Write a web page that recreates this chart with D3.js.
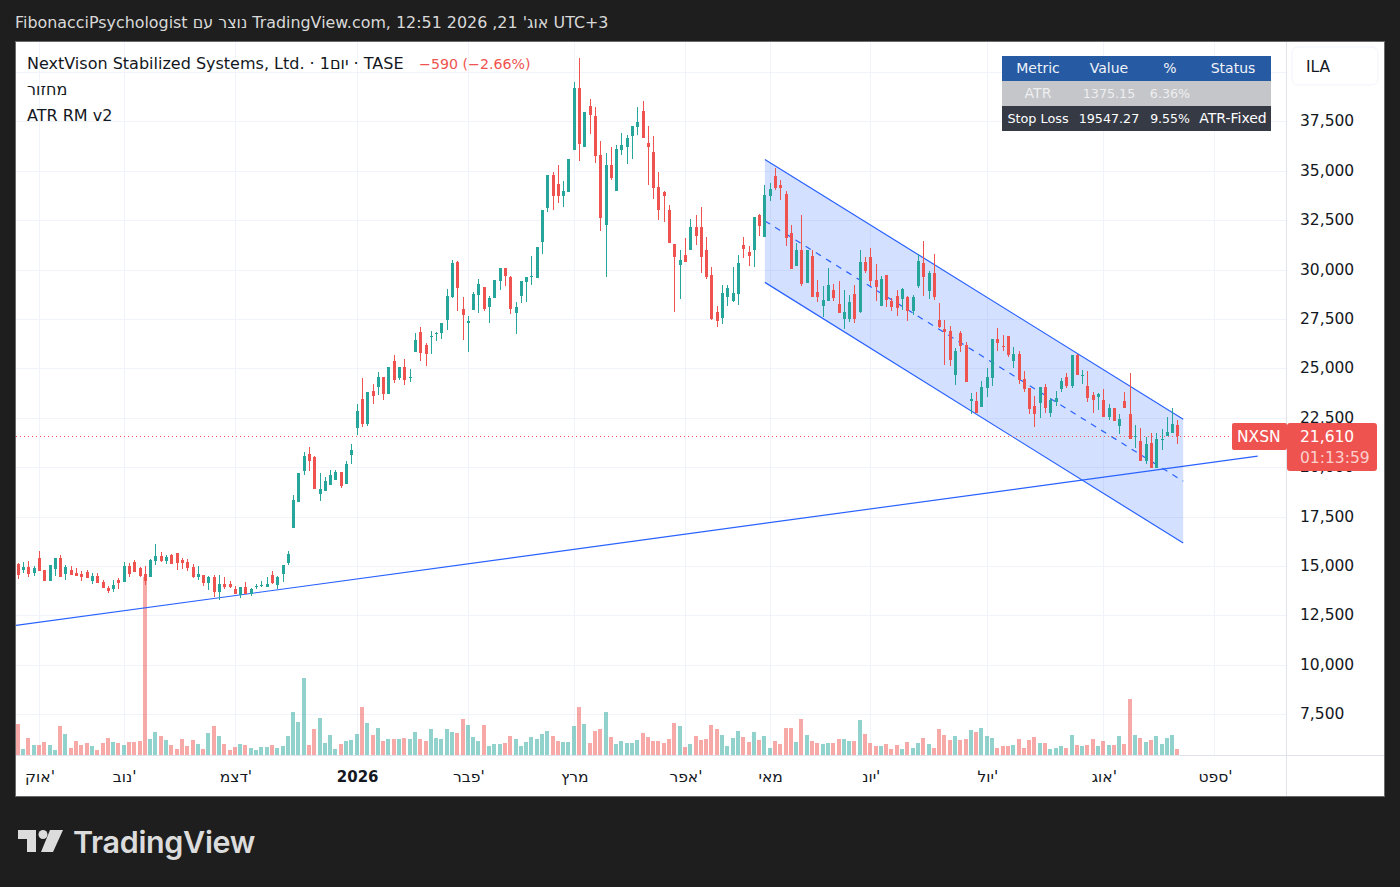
<!DOCTYPE html>
<html>
<head>
<meta charset="utf-8">
<script src="https://cdn.jsdelivr.net/npm/d3@7"></script>
<style>
  html, body { margin: 0; padding: 0; background: #1e1e1e; }
  svg { display: block; }
  text { font-family: "DejaVu Sans", sans-serif; }
</style>
</head>
<body>
<svg width="1400" height="887"></svg>
<script>
// one value per daily bar, oldest first
const opens = [15120,14820,14970,14670,15430,14820,14260,14870,15430,14620,14820,14670,14620,14720,14260,14520,14210,13910,13860,14310,
  14210,15020,15230,14920,14620,14470,15280,15530,15280,15580,15680,15330,15230,14970,14470,14570,14160,14470,13710,14110,
  14110,13860,13550,13960,13610,13960,14010,13960,14570,14060,14620,15170,16940,18260,19830,20690,20540,18660,18820,19120,
  19370,19780,19170,20640,22000,23470,22210,23880,24080,24580,23720,25390,24530,25090,24530,25850,26860,26200,26610,26760,
  26810,27470,28630,30400,28030,27320,27970,28730,29140,28130,28580,29440,30100,29640,27820,28680,29390,29640,29590,31420,
  33140,34810,34350,33740,33950,36070,39210,36220,38300,37790,35820,32280,35310,34000,36070,36220,36780,37240,38050,36430,
  35970,34200,33950,33030,31310,30250,30760,31010,32170,32170,31010,29750,27870,27570,28630,28430,28780,31260,30910,31010,
  32780,31670,33740,34750,34300,33840,31870,30200,31010,29340,30710,28880,28180,28430,28990,28280,27520,27520,28780,27870,
  30400,30660,29490,28180,29750,28430,28680,28530,28630,27920,29190,30350,28940,29850,27470,27010,26910,24690,26810,26200,
  23370,23370,23070,24030,24540,26510,26150,26660,25400,25750,24480,24030,23120,23270,24080,22760,23320,23980,24590,24130,
  25700,24640,24130,23670,23570,23420,22560,23020,22100,23370,22710,21550,21350,20330,21250,19980,21400,21600,21750,22160];
const highs = [15160,15230,15280,15020,15780,14820,15070,15430,15580,15070,15020,14920,14770,14820,14670,14670,14310,14010,14310,14420,
  15230,15170,15330,14970,15020,15380,16140,15730,15580,15630,15680,15430,15380,15120,15020,14570,14520,14570,14570,14470,
  14260,14010,13960,14210,13910,14110,14260,14470,14770,14520,15070,15780,18610,19730,20790,21040,20590,19730,19520,19880,
  19880,19780,20330,21190,23220,24530,23830,24230,24840,24580,25090,25700,25090,25500,24990,26810,27120,26300,26910,26860,
  27320,29040,30510,30460,28630,27670,28890,29540,29140,28680,29490,30100,30100,29700,28380,29440,29640,30710,31160,33030,
  34810,34960,35310,34500,35610,39510,40730,37990,38650,38250,36530,35920,36220,36320,36930,36830,37290,38250,38550,37290,
  36780,34960,34000,33290,31310,31010,31620,32580,32780,33190,31670,30150,28180,29240,29240,30150,30760,31670,31210,32680,
  32830,34300,34400,35160,34550,34000,32280,31360,32780,31010,31010,29490,29190,30100,29290,29440,28990,28730,29240,31010,
  30660,31110,30300,29700,29750,28580,28990,29090,28680,28730,30810,31470,29950,30810,28330,27470,27170,26050,26910,26360,
  23770,23830,24380,25040,26510,27070,26710,26660,26100,25900,24890,24030,23620,24080,24230,23520,23880,24540,24790,25700,
  25750,24940,24890,23830,23780,23980,23220,23020,22710,23830,24790,22160,22000,21550,21750,21750,21950,22560,23020,22410];
const lows = [14370,14650,14470,14530,14790,14260,14260,14520,14470,14310,14570,14520,14260,14420,14110,14160,13910,13660,13710,13860,
  14210,14470,14720,14470,14060,14470,15070,15230,15120,15120,14820,14870,14770,14420,14310,14010,13810,13450,13300,13860,
  13910,13610,13400,13610,13500,13860,13960,13960,14110,13860,14210,15070,16940,18260,19630,19830,18920,18310,18820,19120,
  19370,18970,19170,20180,21650,22050,22100,23220,23670,23420,23720,24280,24430,24180,24330,25850,25390,25140,25750,26410,
  26510,26960,28580,27920,26460,25850,27970,27820,27920,27320,28580,28990,29190,27770,26760,28330,28380,29240,29590,30810,
  32930,33030,33390,33190,33950,36070,35510,36220,36880,35410,31970,29640,34550,34000,35820,35360,35610,36830,36680,34300,
  33590,32530,32430,31360,27870,28530,30400,31010,31260,29850,29540,27470,27110,27260,28180,28380,28230,30600,30200,30150,
  31720,31670,33490,34050,33540,31210,30050,30200,29190,29340,28630,28380,27620,28430,28430,27820,27010,27370,27320,27820,
  29850,29190,28430,28180,28130,27920,27670,27970,27420,27720,29090,28680,28530,28480,27060,25190,25140,24180,25850,24330,
  22710,22760,23070,23570,24130,25900,25900,25600,25040,24230,23830,22710,22060,22510,22760,22560,23120,23830,24030,24030,
  24690,24230,23320,22760,22920,22560,22410,22360,21700,23020,21450,20990,20330,20180,19980,19980,20890,21600,21750,21190];
const closes = [14570,14990,14600,14920,14790,14260,15070,15430,14470,14970,14570,14520,14470,14420,14520,14160,13910,13760,14060,14160,
  15020,14620,14720,14520,14260,15330,15530,15280,15480,15120,15170,15170,14920,14470,14620,14160,14470,13710,14110,13960,
  13960,13610,13960,13610,13860,14010,14060,14110,14160,14470,15070,15630,18360,19730,20590,20330,18920,18920,19320,19630,
  19780,19070,20180,20890,22860,22210,23830,23620,24580,23720,25090,24430,25090,24430,24580,26460,25800,25750,26660,26810,
  27320,28680,30350,29090,27720,27420,28780,29290,28030,28580,29490,30100,29700,28030,28130,29440,29640,29700,31160,33030,
  34810,33740,33740,34000,35610,39210,36370,37990,37840,35770,32630,35310,34650,36120,36320,36680,37290,37490,36680,36220,
  34150,33030,33740,31360,30660,30500,30400,32170,31720,30660,29640,27520,27420,28830,29090,28830,30350,31060,30710,32680,
  32220,33790,34100,34150,34150,31620,30050,31010,29290,31010,28630,28630,28480,29240,28580,27820,27870,28380,27520,30400,
  29950,29440,29140,29540,28480,28130,28080,29040,27920,28630,30450,29640,29850,28630,27110,26860,25440,25900,26150,24330,
  23470,22760,24080,24590,26510,26310,26100,25700,25750,24430,23980,22970,22710,24080,23020,23420,23520,24380,24130,25700,
  24690,24690,23520,23420,23730,22560,23020,22360,22460,23020,21450,21600,20330,21190,19980,21450,21450,21800,22200,21610];
// volume bars have no scale of their own on the chart, so these are relative readings
const volumes = [31,6,17,10,10,13,10,5,29,21,7,14,10,12,9,5,12,17,13,12,
  10,13,13,14,178,16,23,19,15,10,6,16,9,15,11,6,22,29,19,11,
  5,8,11,10,7,5,8,8,10,7,9,19,43,33,77,10,26,37,12,20,
  6,11,14,15,21,48,32,20,27,14,16,16,16,17,16,23,16,14,26,17,
  16,26,23,22,36,30,18,14,30,9,11,11,12,19,16,9,13,18,16,21,
  24,19,14,13,13,29,48,31,12,24,26,43,18,11,14,12,12,15,22,18,
  14,14,12,16,32,29,8,11,19,15,16,30,26,20,9,17,24,18,13,23,
  15,19,7,14,11,27,27,13,36,20,14,12,11,12,12,16,16,14,14,35,
  21,12,9,9,11,6,10,6,13,7,12,17,11,7,26,20,15,19,15,16,
  25,23,27,19,17,7,9,9,10,16,7,15,18,12,12,6,7,9,7,20,
  10,9,10,16,9,14,10,10,19,11,56,20,17,13,15,19,11,17,20,6];

const monthBars = [4, 20, 41, 64, 85, 105, 126, 142, 161, 183, 205, 226];
const monthLabels = ["אוק'", "נוב'", "דצמ'", "2026", "פבר'", "מרץ", "אפר'", "מאי", "יונ'", "יול'", "אוג'", "ספט'"];
const priceTicks = [7500, 10000, 12500, 15000, 17500, 20000, 22500, 25000, 27500, 30000, 32500, 35000, 37500];
const gridPrices = [...priceTicks, 40000];
const lastClose = 21610;

// drawings: [bar, price]
const supportLine = [[-0.43, 12020], [234.07, 20590]];
const channelTop = [[141, 35600], [220, 22460]];
const channelMid = [[141, 32490], [220, 19320]];
const channelBottom = [[141, 29380], [220, 16190]];

const tableHeader = ["Metric", "Value", "%", "Status"];
const tableAtr = ["ATR", "1375.15", "6.36%", ""];
const tableStop = ["Stop Loss", "19547.27", "9.55%", "ATR-Fixed"];

const up = "#26a69a";
const down = "#ef5350";
const ink = "#131722";
const gridColor = "#f0f3fa";
const drawColor = "#2962ff";

const pane = { left: 16, right: 1286, top: 42, bottom: 755 };

const svg = d3.select("svg");

// scales
const x = d3.scaleLinear().domain([0, 219]).range([18.3, 1177.9]);
const y = d3.scaleLinear().domain([7500, 37500]).range([714.8, 121.9]);
const yVol = d3.scaleLinear().domain([0, 178]).range([755, 577]);

// snap to the pixel grid like the original canvas does
const snap = v => Math.floor(v) + 0.5;
const color = i => (closes[i] >= opens[i] ? up : down);

// frame
svg.append("rect").attr("x", 15.5).attr("y", 41.5).attr("width", 1369).attr("height", 755)
  .attr("fill", "#fff").attr("stroke", "#6a6a6a");

svg.append("defs").append("clipPath").attr("id", "pane").append("rect")
  .attr("x", pane.left).attr("y", pane.top)
  .attr("width", pane.right - pane.left).attr("height", pane.bottom - pane.top);

const plot = svg.append("g").attr("clip-path", "url(#pane)");

// grid
plot.selectAll(".hgrid").data(gridPrices).enter().append("line")
  .attr("x1", pane.left).attr("x2", pane.right)
  .attr("y1", d => snap(y(d))).attr("y2", d => snap(y(d)))
  .attr("stroke", gridColor);
plot.selectAll(".vgrid").data(monthBars).enter().append("line")
  .attr("x1", d => snap(x(d))).attr("x2", d => snap(x(d)))
  .attr("y1", pane.top).attr("y2", pane.bottom)
  .attr("stroke", gridColor);

// volume
plot.selectAll(".vol").data(volumes).enter().append("rect")
  .attr("x", (d, i) => snap(x(i)) - 2.5)
  .attr("width", 4)
  .attr("y", d => Math.round(yVol(d)))
  .attr("height", d => yVol(0) - Math.round(yVol(d)))
  .attr("fill", (d, i) => color(i))
  .attr("opacity", 0.5)
  .attr("shape-rendering", "crispEdges");

// channel
const lineGen = d3.line().x(d => x(d[0])).y(d => y(d[1]));
plot.append("path")
  .attr("d", lineGen([channelTop[0], channelTop[1], channelBottom[1], channelBottom[0]]) + "Z")
  .attr("fill", drawColor).attr("fill-opacity", 0.2);
[channelTop, channelBottom].forEach(l => {
  plot.append("path").attr("d", lineGen(l)).attr("fill", "none").attr("stroke", drawColor).attr("stroke-width", 1.2);
});
plot.append("path").attr("d", lineGen(channelMid)).attr("fill", "none")
  .attr("stroke", drawColor).attr("stroke-width", 1.2).attr("stroke-dasharray", "6 6");
plot.append("path").attr("d", lineGen(supportLine)).attr("fill", "none").attr("stroke", drawColor).attr("stroke-width", 1.2);

// last price line
plot.append("line").attr("x1", pane.left).attr("x2", pane.right)
  .attr("y1", Math.round(y(lastClose)) + 0.5).attr("y2", Math.round(y(lastClose)) + 0.5)
  .attr("stroke", down).attr("stroke-dasharray", "1 3")
  .attr("shape-rendering", "crispEdges");

// candles
const candles = plot.selectAll(".candle").data(d3.range(opens.length)).enter().append("g")
  .attr("shape-rendering", "crispEdges");
candles.append("line")
  .attr("x1", i => snap(x(i))).attr("x2", i => snap(x(i)))
  .attr("y1", i => Math.round(y(highs[i]))).attr("y2", i => Math.round(y(lows[i])))
  .attr("stroke", color).attr("stroke-width", 1);
candles.append("rect")
  .attr("x", i => snap(x(i)) - 1.5)
  .attr("width", 3)
  .attr("y", i => Math.round(y(Math.max(opens[i], closes[i]))))
  .attr("height", i => Math.max(1, Math.round(y(Math.min(opens[i], closes[i]))) - Math.round(y(Math.max(opens[i], closes[i])))))
  .attr("fill", color);

// axes
svg.append("line").attr("x1", 16).attr("x2", 1384).attr("y1", 755.5).attr("y2", 755.5).attr("stroke", "#e0e3eb");
svg.append("line").attr("x1", 1286.5).attr("x2", 1286.5).attr("y1", 42).attr("y2", 796).attr("stroke", "#e0e3eb");

const priceAxis = d3.axisRight(y).tickValues(priceTicks).tickSize(0).tickPadding(0).tickFormat(d3.format(","));
const gPrice = svg.append("g").attr("transform", "translate(1300,-1)").call(priceAxis);
gPrice.select(".domain").remove();
gPrice.selectAll("text").attr("fill", ink).style("font-size", "15.5px").style("font-family", "DejaVu Sans");

const timeAxis = d3.axisBottom(x).tickValues(monthBars).tickSize(0).tickPadding(0)
  .tickFormat((d, i) => monthLabels[i]);
const gTime = svg.append("g").attr("transform", "translate(0,771)").call(timeAxis);
gTime.select(".domain").remove();
gTime.selectAll("text").attr("fill", ink).style("font-family", "DejaVu Sans")
  .style("font-size", (d, i) => (monthLabels[i] === "2026" ? "15px" : "15.5px"))
  .style("font-weight", (d, i) => (monthLabels[i] === "2026" ? 700 : 400));

// title bar
svg.append("text").attr("x", 15).attr("y", 28).attr("fill", "#d9d9d9").style("font-size", "15.9px")
  .text("FibonacciPsychologist נוצר עם TradingView.com, 12:51 2026 ,21 אוג'\u200F UTC+3");

// legend
const legend = svg.append("text").attr("x", 27).attr("y", 69).attr("fill", ink).style("font-size", "16px");
legend.append("tspan").text("NextVison Stabilized Systems, Ltd. · 1יום · TASE");
svg.append("text").attr("x", 419).attr("y", 69).attr("fill", down).style("font-size", "14.2px").text("−590 (−2.66%)");
svg.append("text").attr("x", 27).attr("y", 95).attr("fill", ink).style("font-size", "16px").text("מחזור");
svg.append("text").attr("x", 27).attr("y", 121).attr("fill", ink).style("font-size", "16px").text("ATR RM v2");

// status table
const tableCols = [1038, 1109, 1170, 1233];
const tableRows = [
  { cells: tableHeader, fill: "#265aa3", ink: "#f0f3fa", top: 56, size: [14, 14, 14, 14] },
  { cells: tableAtr, fill: "#c5c6ca", ink: "#eeeef0", top: 81, size: [14, 12.7, 12.7, 14] },
  { cells: tableStop, fill: "#363a45", ink: "#ffffff", top: 106, size: [12.8, 12.7, 12.5, 14] }
];
tableRows.forEach(r => {
  svg.append("rect").attr("x", 1002).attr("y", r.top).attr("width", 269).attr("height", 25).attr("fill", r.fill);
  r.cells.forEach((c, i) => {
    svg.append("text").attr("x", tableCols[i]).attr("y", r.top + 17).attr("text-anchor", "middle")
      .attr("fill", r.ink).style("font-size", r.size[i] + "px").text(c);
  });
});

// currency button
svg.append("rect").attr("x", 1292).attr("y", 47).attr("width", 86).attr("height", 38).attr("rx", 6)
  .attr("fill", "#fff").attr("stroke", "#f0f3fa");
svg.append("text").attr("x", 1306).attr("y", 72).attr("fill", ink).style("font-size", "15.5px").text("ILA");

// last price labels
svg.append("rect").attr("x", 1232).attr("y", 423).attr("width", 55).attr("height", 27).attr("rx", 2).attr("fill", down);
svg.append("text").attr("x", 1237).attr("y", 442).attr("fill", "#fff").style("font-size", "15.5px").text("NXSN");
svg.append("rect").attr("x", 1287).attr("y", 423).attr("width", 90).attr("height", 48).attr("rx", 3).attr("fill", down);
svg.append("text").attr("x", 1300).attr("y", 442).attr("fill", "#fff").style("font-size", "15.5px").text(d3.format(",")(lastClose));
svg.append("text").attr("x", 1300).attr("y", 463).attr("fill", "#fbcfce").style("font-size", "15.5px").text("01:13:59");

// logo
const logo = svg.append("g").attr("fill", "#dcdcdc");
logo.append("path").attr("d", "M18 830H36V852H27V839H18Z");
logo.append("circle").attr("cx", 43).attr("cy", 834.5).attr("r", 4.5);
logo.append("path").attr("d", "M50 830H63L53 852H41Z");
logo.append("text").attr("x", 73).attr("y", 852.5).style("font-family", "Inter").style("font-weight", 600)
  .style("font-size", "30.5px").style("letter-spacing", "-0.35px").text("TradingView");
</script>
</body>
</html>
